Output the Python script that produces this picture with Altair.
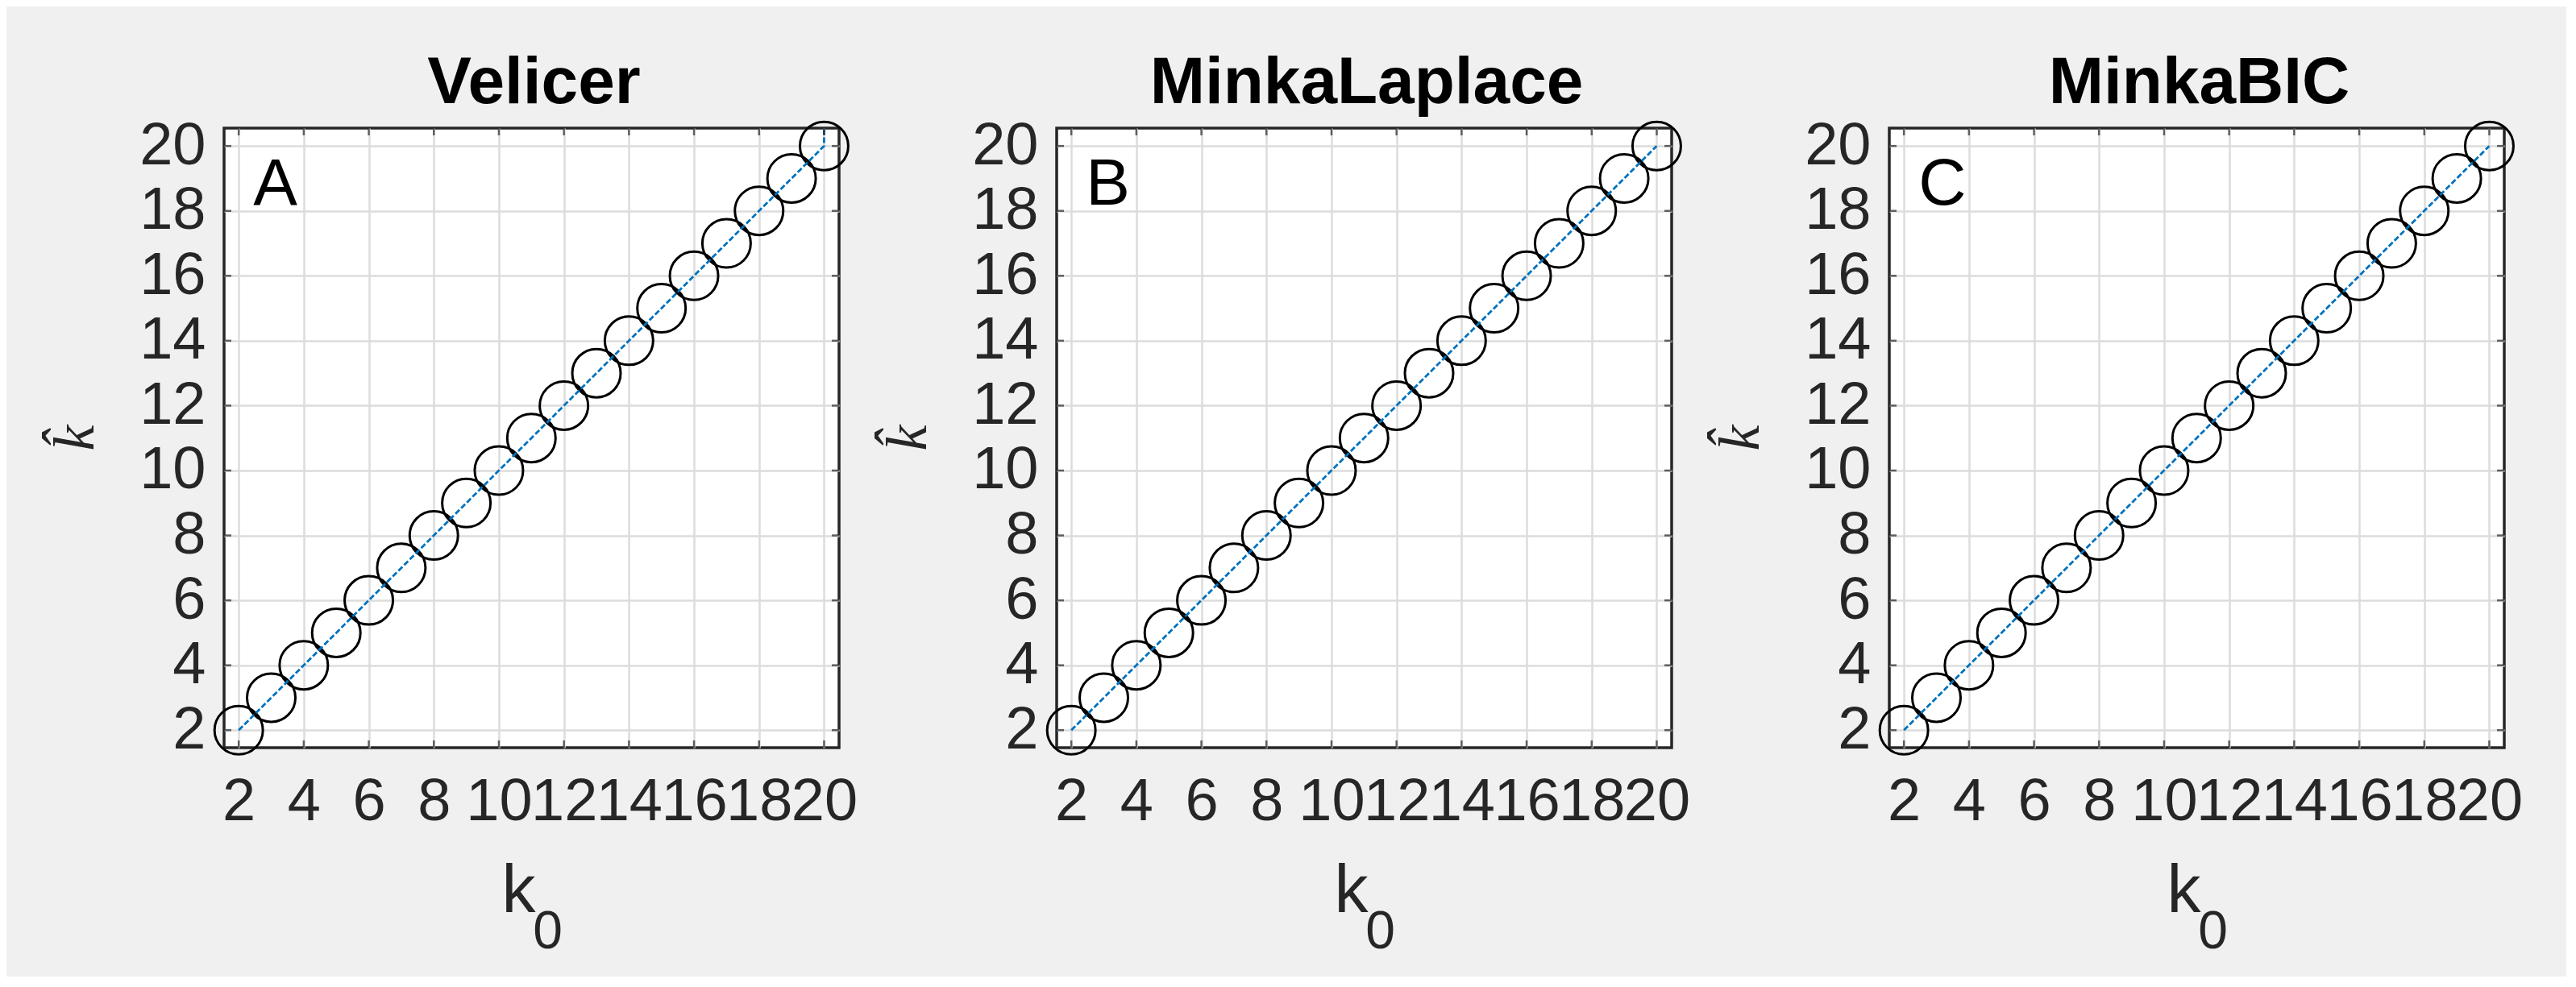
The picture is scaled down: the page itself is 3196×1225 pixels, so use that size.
import altair as alt
import pandas as pd

# ---- data ----
k0 = [2, 3, 4, 5, 6, 7, 8, 9, 10, 11, 12, 13, 14, 15, 16, 17, 18, 19, 20]
velicer = [2, 3, 4, 5, 6, 7, 8, 9, 10, 11, 12, 13, 14, 15, 16, 17, 18, 19, 20]
minka_laplace = [2, 3, 4, 5, 6, 7, 8, 9, 10, 11, 12, 13, 14, 15, 16, 17, 18, 19, 20]
minka_bic = [2, 3, 4, 5, 6, 7, 8, 9, 10, 11, 12, 13, 14, 15, 16, 17, 18, 19, 20]
titles = ["Velicer", "MinkaLaplace", "MinkaBIC"]
letters = ["A", "B", "C"]
# dashed reference line (panel A shows an extra upward segment at k0 = 20)
ref_x_a = [2, 20, 20]
ref_y_a = [2, 20, 21]
ref_x = [2, 20]
ref_y = [2, 20]
tick_values = [2, 4, 6, 8, 10, 12, 14, 16, 18, 20]

# ---- layout / style constants ----
W, H = 763, 769
X_DOMAIN = [1.55, 20.46]
Y_DOMAIN = [1.46, 20.55]
LETTER_X, LETTER_Y = 2.45, 18.2
FONT = "Liberation Sans"
AX_COLOR = "#262626"
BLUE = "#0072BD"


def panel(title, letter, est, lx, ly):
    pts = pd.DataFrame({"k0": k0, "khat": est})
    ln = pd.DataFrame({"x": lx, "y": ly})
    ticks = pd.DataFrame({"v": tick_values})
    lab = pd.DataFrame({"x": [LETTER_X], "y": [LETTER_Y], "t": [letter]})

    xs = alt.Scale(domain=X_DOMAIN, nice=False, zero=False)
    ys = alt.Scale(domain=Y_DOMAIN, nice=False, zero=False)
    xaxis = alt.Axis(values=tick_values, title=None, grid=True, ticks=False, domain=False,
                     labelFontSize=74, labelFont=FONT, labelColor=AX_COLOR, labelPadding=31,
                     labelOverlap=False, labelFlush=False, labelBound=False, format="d")
    yaxis = alt.Axis(values=tick_values, title=None, grid=True, ticks=False, domain=False,
                     labelFontSize=74, labelFont=FONT, labelColor=AX_COLOR, labelPadding=23,
                     labelOverlap=False, labelFlush=False, labelBound=False, format="d")

    X = lambda f: alt.X(f, scale=xs, axis=xaxis)
    Y = lambda f: alt.Y(f, scale=ys, axis=yaxis)

    circles = alt.Chart(pts).mark_point(
        shape="circle", filled=False, size=3600, stroke="black", strokeWidth=3, opacity=1
    ).encode(x=X("k0:Q"), y=Y("khat:Q"))

    line = alt.Chart(ln).mark_line(
        clip=True, color=BLUE, strokeDash=[7, 3], strokeWidth=2.8
    ).encode(x=X("x:Q"), y=Y("y:Q"))

    tk = dict(color=AX_COLOR, size=9, thickness=2.5)
    t_bottom = alt.Chart(ticks).mark_tick(orient="vertical", **tk).encode(x=X("v:Q"), y=alt.value(H - 4.5))
    t_top = alt.Chart(ticks).mark_tick(orient="vertical", **tk).encode(x=X("v:Q"), y=alt.value(4.5))
    t_left = alt.Chart(ticks).mark_tick(orient="horizontal", **tk).encode(y=Y("v:Q"), x=alt.value(4.5))
    t_right = alt.Chart(ticks).mark_tick(orient="horizontal", **tk).encode(y=Y("v:Q"), x=alt.value(W - 4.5))

    letter_txt = alt.Chart(lab).mark_text(
        align="left", baseline="alphabetic", fontSize=82, font=FONT, color="black"
    ).encode(x=X("x:Q"), y=Y("y:Q"), text="t:N")

    title_txt = alt.Chart(pd.DataFrame({"t": [title]})).mark_text(
        align="center", baseline="alphabetic", fontSize=82, fontWeight="bold", font=FONT, color="black"
    ).encode(x=alt.value(W / 2 + 3), y=alt.value(-31), text="t:N")

    ylab = alt.Chart(pd.DataFrame({"t": ["k\u0302"]})).mark_text(
        angle=270, align="center", baseline="middle", fontSize=72,
        font="Liberation Serif", fontStyle="italic", color=AX_COLOR
    ).encode(x=alt.value(-184), y=alt.value(H / 2), text="t:N")

    xlab_k = alt.Chart(pd.DataFrame({"t": ["k"]})).mark_text(
        align="center", baseline="alphabetic", fontSize=84, font=FONT, color=AX_COLOR
    ).encode(x=alt.value(W / 2 - 16), y=alt.value(H + 204), text="t:N")
    xlab_0 = alt.Chart(pd.DataFrame({"t": ["0"]})).mark_text(
        align="center", baseline="alphabetic", fontSize=66, font=FONT, color=AX_COLOR
    ).encode(x=alt.value(W / 2 + 20), y=alt.value(H + 249), text="t:N")

    return alt.layer(
        circles, line, t_bottom, t_top, t_left, t_right, letter_txt, title_txt, ylab, xlab_k, xlab_0
    ).properties(width=W, height=H)


p1 = panel(titles[0], letters[0], velicer, ref_x_a, ref_y_a)
p2 = panel(titles[1], letters[1], minka_laplace, ref_x, ref_y)
p3 = panel(titles[2], letters[2], minka_bic, ref_x, ref_y)

chart = alt.hconcat(p1, p2, p3, spacing=270, bounds="flush").properties(
    padding={"left": 48, "top": 52, "right": 52, "bottom": 20},
    background="#f0f0f0",
).configure_view(
    stroke=AX_COLOR, strokeWidth=3.5, fill="white"
).configure_axis(
    gridColor="#dcdcdc", gridWidth=2.5, gridOpacity=1
)

chart.save("out.html", embed_options={"renderer": "svg", "actions": False})
